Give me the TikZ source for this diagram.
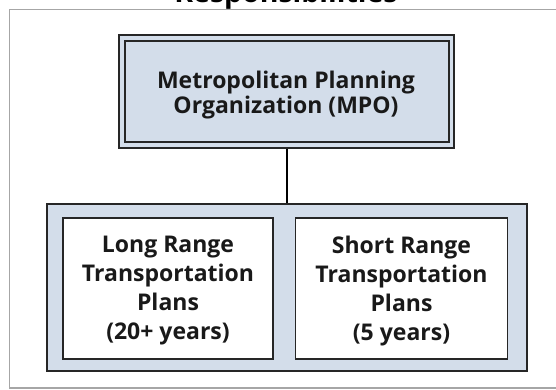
\documentclass[tikz,border=0pt]{standalone}
\usepackage{fontspec}
\setmainfont{Open Sans}
\begin{document}
\begin{tikzpicture}[x=1pt,y=-1pt,
  lbl/.style={font=\bfseries\fontsize{23}{25}\selectfont, align=center, text=black!90},
  sub/.style={font=\bfseries\fontsize{23}{29}\selectfont, align=center, text=black!90},
  darkline/.style={draw=black!85, line width=1.8pt},
]
\definecolor{paleblue}{HTML}{D3DDEA}
\clip (0,0) rectangle (556,390);
\useasboundingbox (0,0) rectangle (556,390);
\fill[white] (0,0) rectangle (556,390);
% frame
\draw[gray!70, line width=1.5pt] (600,9.5) -- (9.5,9.5) -- (9.5,388) -- (600,388);
% title (cut off at the top, as in the reference)
\node[font=\bfseries\fontsize{28.5}{30}\selectfont, anchor=base, inner sep=0pt] (title) at (286,2.5) {Responsibilities};
% MPO box
\node[darkline, fill=paleblue, minimum width=335pt, minimum height=113pt, inner sep=0pt] (mpoout) at (286.5,91.5) {};
\node[darkline, fill=paleblue, minimum width=324pt, minimum height=101pt, inner sep=0pt] (mpo) at (287,91.5) {};
\node[lbl] (mpotext) at (286,95) {Metropolitan Planning\\Organization (MPO)};
% lower group
\node[darkline, fill=paleblue, minimum width=480pt, minimum height=167pt, inner sep=0pt] (group) at (287,287.5) {};
\node[darkline, fill=white, minimum width=210pt, minimum height=141pt, inner sep=0pt] (long) at (168,288.5) {};
\node[darkline, fill=white, minimum width=212pt, minimum height=141pt, inner sep=0pt] (short) at (401.5,288.5) {};
\node[sub] (longtext) at (168,291) {Long Range\\Transportation\\Plans\\(20+ years)};
\node[sub] (shorttext) at (401.5,291) {Short Range\\Transportation\\Plans\\(5 years)};
% connector
\draw[black, line width=2.4pt] (mpoout.south -| 287,0) -- (group.north -| 287,0);
\end{tikzpicture}
\end{document}
